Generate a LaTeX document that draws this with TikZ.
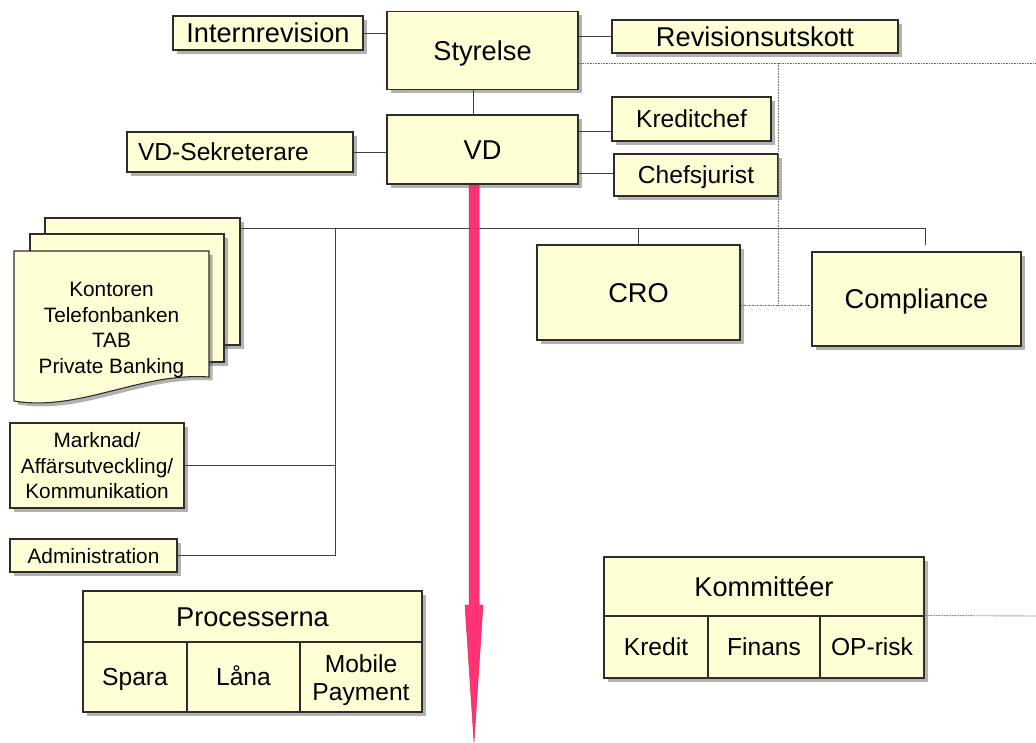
\documentclass[tikz,border=0pt]{standalone}
\usepackage{fontspec}
\setmainfont{Liberation Sans}
\usetikzlibrary{shadows,calc}
\definecolor{boxfill}{RGB}{255,255,214}
\definecolor{boxline}{RGB}{45,45,45}
\definecolor{arrowpink}{RGB}{255,36,108}
\definecolor{arrowedge}{RGB}{235,30,60}
\begin{document}
\begin{tikzpicture}[x=1pt,y=-1pt,
  shadowed/.style={drop shadow={shadow xshift=3.5pt,shadow yshift=-3.5pt,opacity=0.4,fill=black!75}},
  box/.style={draw=boxline,line width=1.1pt,fill=boxfill,inner sep=0pt,align=center,shadowed},
  cell/.style={draw=boxline,line width=1.1pt,fill=boxfill,inner sep=0pt,align=center},
  conn/.style={draw=black!75,line width=1pt},
  dots/.style={draw=black!55,line width=0.9pt,dash pattern=on 0.8pt off 0.8pt},
  big/.style={font=\fontsize{27.2}{31}\selectfont,text height=19.5pt,text depth=0pt},
  med/.style={font=\fontsize{24.6}{28}\selectfont,text height=17.7pt,text depth=0pt},
  sml/.style={font=\fontsize{20.8}{25.7}\selectfont,text height=15pt,text depth=0pt},
  lines/.style={text height={15pt+(#1-1)*25.7pt}},
]
\useasboundingbox (0,0) rectangle (1036,742);
\fill[white] (0,0) rectangle (1036,742);

% top boxes
\node[box,big,minimum width=191pt,minimum height=78pt] (styr) at (482.5,50.5) {Styrelse};
\node[box,big,minimum width=190pt,minimum height=34pt] (intrev) at (268,33) {Internrevision};
\node[box,big,minimum width=286pt,minimum height=33pt] (revu) at (755,36.5) {Revisionsutskott};
\node[box,big,minimum width=191pt,minimum height=69pt] (vd) at (482.5,149.5) {VD};
\node[box,med,minimum width=226pt,minimum height=40pt,text width=204pt,align=left] (vdsek) at (240,152) {VD-Sekreterare};
\node[box,med,minimum width=159pt,minimum height=44pt] (kred) at (691.5,119) {Kreditchef};
\node[box,med,minimum width=164pt,minimum height=42pt] (chef) at (696,175) {Chefsjurist};
\node[box,big,minimum width=203pt,minimum height=95pt] (cro) at (638.5,292.5) {CRO};
\node[box,big,minimum width=209pt,minimum height=94pt] (comp) at (916.5,299) {Compliance};

% stacked documents
\filldraw[draw=boxline,line width=1.1pt,fill=boxfill,shadowed] (45,218) rectangle (240,345);
\filldraw[draw=boxline,line width=1.1pt,fill=boxfill,shadowed] (30,234) rectangle (224,362);
\filldraw[draw=boxline,line width=1.1pt,fill=boxfill,shadowed] (14,251) -- (209,251) -- (209,377)
   .. controls (140,372) and (80,412) .. (14,401) -- cycle;
\node[sml,lines=4,align=center] (kont) at (111.5,327.5) {Kontoren\\Telefonbanken\\TAB\\Private Banking};
\coordinate (docs) at (240,228);

\node[box,sml,lines=3,minimum width=174pt,minimum height=85pt] (mark) at (97,465.5) {Marknad/\\Affärsutveckling/\\Kommunikation};
\node[box,sml,minimum width=167pt,minimum height=33pt] (admin) at (93.5,555.5) {Administration};

% Processerna
\node[box,minimum width=339pt,minimum height=121pt] (proc) at (252.5,651.5) {};
\node[cell,big,minimum width=339pt,minimum height=51pt] (proch) at (252.5,616.5) {Processerna};
\node[cell,med,minimum width=104pt,minimum height=70pt] (spara) at (135,677) {Spara};
\node[cell,med,minimum width=113pt,minimum height=70pt] (lana) at (243.5,677) {Låna};
\node[cell,med,text height=47.7pt,minimum width=122pt,minimum height=70pt] (mob) at (361,677) {Mobile\\Payment};

% Kommitteer
\node[box,minimum width=320pt,minimum height=121pt] (komm) at (764,617.5) {};
\node[cell,big,minimum width=320pt,minimum height=59pt] (kommh) at (764,586.5) {Kommittéer};
\node[cell,med,minimum width=104pt,minimum height=62pt] (kkred) at (656,647) {Kredit};
\node[cell,med,minimum width=112pt,minimum height=62pt] (kfin) at (764,647) {Finans};
\node[cell,med,minimum width=104pt,minimum height=62pt] (kop) at (872,647) {OP-risk};

% connectors
\coordinate (vdx) at (473,0);
\coordinate (vdy) at (474,0);
\coordinate (busR) at (925,228);
\coordinate (vbus) at (335,228);
\draw[conn] (intrev.east) -- (intrev.east -| styr.west);
\draw[conn] (styr.east |- revu.west) -- (revu.west);
\draw[conn] (styr.south -| vdx) -- (vd.north -| vdx);
\draw[conn] (vdsek.east) -- (vdsek.east -| vd.west);
\draw[conn] (vd.east |- 0,131) -- (kred.west |- 0,131);
\draw[conn] (vd.east |- 0,173) -- (chef.west |- 0,173);
\draw[conn] (vd.south -| vdy) -- (vdy |- docs);
\draw[conn] (docs) -- (busR) -- ++(0,17);
\draw[conn] (cro.north |- docs) -- (cro.north);
\draw[conn] (vbus) -- (vbus |- admin.east);
\draw[conn] (mark.east) -- (mark.east -| vbus);
\draw[conn] (admin.east) -- (admin.east -| vbus);

% dotted
\coordinate (dotx) at (778,63);
\draw[dots] (styr.east |- dotx) -- (1036,63);
\draw[dots] (dotx) -- (dotx |- 0,305);
\draw[dots] (cro.east |- 0,305) -- (comp.west |- 0,305);
\draw[dots] (komm.east |- kkred.north) -- (1036,616);

% red arrow
\filldraw[fill=arrowpink,draw=arrowedge,line width=0.5pt,opacity=0.93]
  (469,185) -- (479,185) -- (479,605) -- (483,605) -- (474,742) -- (465,605) -- (469,605) -- cycle;
\end{tikzpicture}
\end{document}
